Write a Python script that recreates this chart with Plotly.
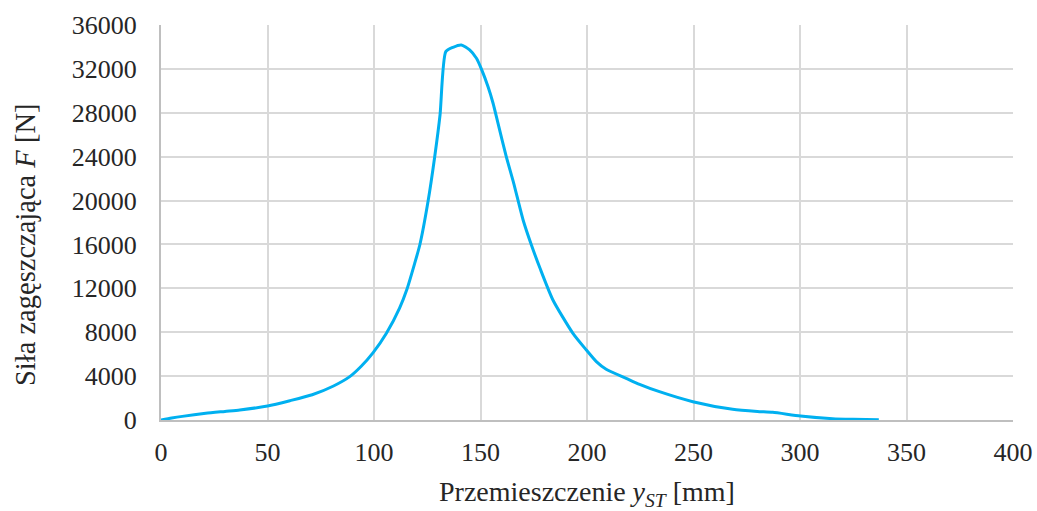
import plotly.graph_objects as go

displacement_mm = [0, 5, 10, 21, 30, 37, 50, 60.5, 71, 81, 88.6, 94, 99.6, 105.9, 112, 115.5, 119.1,
                   121.5, 125.4, 128.5, 131, 133.7, 137.1, 141, 144.9, 148.1, 150.4,
                   153.5, 155.9, 158.2, 162.1, 165.6, 170, 173.9, 178, 184, 193.4, 199.7, 204.4,
                   209, 218.4, 224.7, 234, 249.7, 268.4, 280, 287.2, 300.2, 315.3, 325, 337]
force_N = [0, 180, 330, 610, 780, 910, 1280, 1760, 2300, 3100, 3950, 4900, 6140, 7930, 10200, 11940, 14280,
           15950, 19960, 24000, 27800, 33570, 33970, 34180, 33730, 32970, 32000,
           30390, 28870, 27050, 24000, 21570, 18230, 15950, 13800, 10940, 7900, 6380, 5320,
           4620, 3800, 3250, 2580, 1670, 975, 780, 700, 365, 120, 60, 20]

x_ticks = [0, 50, 100, 150, 200, 250, 300, 350, 400]
y_ticks = [0, 4000, 8000, 12000, 16000, 20000, 24000, 28000, 32000, 36000]

FONT = "Liberation Serif"
TXT = "#262626"

fig = go.Figure()
fig.add_trace(go.Scatter(
    x=displacement_mm, y=force_N, mode="lines",
    line=dict(color="#00b0f0", width=3, shape="spline", smoothing=0.6),
    showlegend=False, hoverinfo="skip",
))

fig.update_layout(
    width=1037, height=511,
    margin=dict(l=161, r=24, t=25, b=91, autoexpand=False),
    paper_bgcolor="white", plot_bgcolor="white",
    font=dict(family=FONT, size=26, color=TXT),
    xaxis=dict(
        range=[0, 400], tickvals=x_ticks, ticktext=[str(v) for v in x_ticks],
        showgrid=True, gridcolor="#d9d9d9", gridwidth=1.5,
        showline=True, linecolor="#bfbfbf", linewidth=2,
        zeroline=False, ticks="", ticklabelstandoff=8, automargin=False,
        tickfont=dict(family=FONT, size=26, color=TXT),
        title=dict(text="Przemieszczenie <i>y</i><sub><i>ST</i></sub> [mm]",
                   font=dict(family=FONT, size=28, color=TXT), standoff=22),
    ),
    yaxis=dict(
        range=[0, 36000], tickvals=y_ticks, ticktext=[str(v) for v in y_ticks],
        showgrid=True, gridcolor="#d9d9d9", gridwidth=1.5,
        showline=True, linecolor="#bfbfbf", linewidth=2,
        zeroline=False, ticks="", ticklabelstandoff=17, automargin=False,
        tickfont=dict(family=FONT, size=26, color=TXT),
    ),
    annotations=[dict(
        text="Siła zagęszczająca <i>F</i> [N]", textangle=-90,
        xref="paper", yref="paper", x=(25 - 161) / 852, y=(420 - 245) / 395,
        xanchor="center", yanchor="middle", showarrow=False,
        font=dict(family=FONT, size=28.5, color=TXT),
    )],
)

fig.write_html("out.html")
